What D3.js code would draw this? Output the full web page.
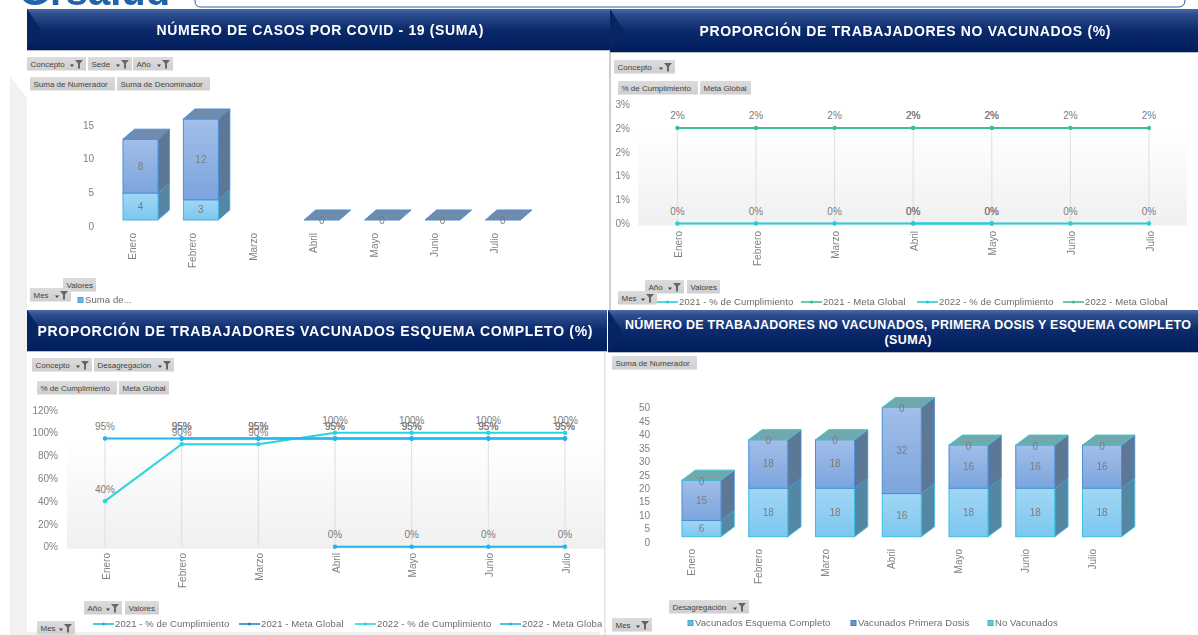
<!DOCTYPE html>
<html lang="es">
<head>
  <meta charset="UTF-8">
  <title>Tablero COVID-19</title>
  <style>
    body { margin: 0; background: #fff; overflow: hidden; }
    svg { display: block; filter: blur(0.6px); }
    text { font-family: "Liberation Sans", Arial, sans-serif; }
    .title { fill: #fff; font-weight: bold; text-anchor: middle; }
    .chip text { font-size: 8px; fill: #444; }
    .tick-label { font-size: 10px; fill: #808080; }
    .val { font-size: 10px; fill: #7c7c7c; text-anchor: middle; }
    .legend text { font-size: 9.5px; fill: #6a6a6a; letter-spacing: 0.1px; }
    .domain, .axis line { display: none; }
  </style>
</head>
<body>
  <svg width="1198" height="635"></svg>
  <script src="https://d3js.org/d3.v7.min.js"></script>
  <script>
    const months = ["Enero", "Febrero", "Marzo", "Abril", "Mayo", "Junio", "Julio"];

    // Casos por COVID
    const casosPrimera = [4, 3, null, 0, 0, 0, 0];
    const casosSegunda = [8, 12, null, 0, 0, 0, 0];
    const casosTicks = [0, 5, 10, 15];

    // No vacunados (%)
    const noVac2021Cumpl = [null, null, null, 0, 0, null, null];
    const noVac2021Meta = [null, null, null, 2, 2, null, null];
    const noVac2022Cumpl = [0, 0, 0, 0, 0, 0, 0];
    const noVac2022Meta = [2, 2, 2, 2, 2, 2, 2];
    const noVacTicks = [0, 0.5, 1, 1.5, 2, 2.5];

    // Vacunados esquema completo (%)
    const vac2021Cumpl = [null, null, null, 0, 0, 0, 0];
    const vac2021Meta = [null, 95, 95, 95, 95, 95, 95];
    const vac2022Cumpl = [40, 90, 90, 100, 100, 100, 100];
    const vac2022Meta = [95, 95, 95, 95, 95, 95, 95];
    const vacTicks = [0, 20, 40, 60, 80, 100, 120];

    // Numero de trabajadores
    const trabEsquema = [6, 18, 18, 16, 18, 18, 18];
    const trabPrimera = [15, 18, 18, 32, 16, 16, 16];
    const trabNoVac = [0, 0, 0, 0, 0, 0, 0];
    const trabTicks = [0, 5, 10, 15, 20, 25, 30, 35, 40, 45, 50];

    const lineLegend = ["2021 - % de Cumplimiento", "2021 - Meta Global", "2022 - % de Cumplimiento", "2022 - Meta Global"];

    const svg = d3.select("svg");
    const defs = svg.append("defs");

    function vGrad(id, stops) {
      const g = defs.append("linearGradient").attr("id", id).attr("x1", 0).attr("x2", 0).attr("y1", 0).attr("y2", 1);
      stops.forEach(s => g.append("stop").attr("offset", s[0]).attr("stop-color", s[1]));
    }
    vGrad("hdr", [[0, "#4a6aa6"], [0.12, "#2c4d8e"], [0.5, "#0b2a6b"], [1, "#001d5c"]]);
    vGrad("chipBg", [[0, "#dcdcdc"], [1, "#cfcfcf"]]);
    vGrad("plotBg", [[0, "#ffffff"], [0.2, "#ffffff"], [1, "#f0f0f0"]]);
    vGrad("upper", [[0, "#a3bee9"], [1, "#7ba5dd"]]);
    vGrad("lower", [[0, "#a2d6f5"], [1, "#7cc7ef"]]);

    // page furniture
    svg.append("path").attr("d", "M10,76 L27,98 L27,635 L10,635 Z").attr("fill", "#f1f1f1");
    svg.append("rect").attr("x", 10).attr("y", 632).attr("width", 590).attr("height", 3).attr("fill", "#f1f1f1");
    svg.append("path").attr("d", "M195,-8 L195,1 Q195,7 201,7 L1178,7 Q1185,7 1185,0 L1185,-8")
      .attr("fill", "none").attr("stroke", "#2f5d94").attr("stroke-width", 1);
    svg.append("text").attr("x", 19).attr("y", 5).attr("font-size", 40).attr("font-weight", "bold")
      .attr("fill", "#1f63a8").text("Grsalud");
    svg.append("rect").attr("x", 609).attr("y", 50).attr("width", 2).attr("height", 260).attr("fill", "#cfcfcf");
    svg.append("rect").attr("x", 604).attr("y", 352).attr("width", 1.5).attr("height", 283).attr("fill", "#e4e4e4");

    function header(x, y, w, h, lines, cx, cy, size, lens) {
      svg.append("rect").attr("x", x).attr("y", y).attr("width", w).attr("height", h).attr("fill", "url(#hdr)");
      svg.append("path").attr("d", `M${x},${y} L${x + 14},${y + h / 2} L${x},${y + h} Z`).attr("fill", "#062561");
      svg.append("line").attr("x1", x).attr("x2", x + w).attr("y1", y + h + 0.5).attr("y2", y + h + 0.5).attr("stroke", "#b9bec8");
      lines.forEach((t, i) => {
        svg.append("text").attr("class", "title").attr("x", cx).attr("y", cy + i * 15).attr("dy", "0.35em")
          .attr("font-size", size).attr("textLength", lens[i]).text(t);
      });
    }

    // Pivot field button, the funnel is only drawn when the field can be filtered
    function chip(x, y, w, label, hasFilter) {
      const g = svg.append("g").attr("class", "chip").attr("transform", `translate(${x},${y})`);
      g.append("rect").attr("width", w).attr("height", 13.5).attr("fill", "url(#chipBg)");
      g.append("text").attr("x", 3.5).attr("y", 9.5).text(label);
      if (hasFilter) {
        g.append("path").attr("d", `M${w - 16},7.5 h4 l-2,2.5 Z`).attr("fill", "#444");
        g.append("path").attr("d", `M${w - 11},3 h8 l-3,3.5 v5 h-2 v-5 Z`).attr("fill", "#666");
      }
    }

    function bandScale(x0, step, width) {
      const pad = 1 - width / step;
      return d3.scaleBand().domain(months).range([x0 - step * pad / 2, x0 - step * pad / 2 + step * 7]).paddingInner(pad).paddingOuter(pad / 2);
    }

    function monthLabels(xPos, top) {
      months.forEach(m => {
        svg.append("text").attr("class", "tick-label").attr("text-anchor", "end")
          .attr("transform", `translate(${xPos(m)},${top}) rotate(-90)`).attr("dy", "0.35em").text(m);
      });
    }

    function valueAxis(y, ticks, right, shift, fmt) {
      const g = svg.append("g").attr("class", "axis").attr("transform", `translate(${right},${shift})`)
        .call(d3.axisLeft(y).tickValues(ticks).tickSize(0).tickPadding(0).tickFormat(fmt));
      g.selectAll("text").attr("class", "tick-label").style("font-size", "10px").style("font-family", null);
    }

    // One stacked 3D column segment: front, right side and optional top face
    function segment(x, w, y0, y1, dx, dy, front, side, stroke) {
      svg.append("path").attr("d", `M${x + w},${y1} l${dx},${-dy} V${y0 - dy} L${x + w},${y0} Z`)
        .attr("fill", side).attr("stroke", stroke).attr("stroke-width", 0.8);
      svg.append("rect").attr("x", x).attr("y", y1).attr("width", w).attr("height", y0 - y1)
        .attr("fill", front).attr("stroke", stroke).attr("stroke-width", 1);
    }
    function topFace(x, w, yTop, dx, dy, fill, stroke) {
      svg.append("path").attr("d", `M${x},${yTop} l${dx},${-dy} h${w} l${-dx},${dy} Z`)
        .attr("fill", fill).attr("stroke", stroke).attr("stroke-width", 1);
    }
    function val(x, y, t) {
      svg.append("text").attr("class", "val").attr("x", x).attr("y", y).attr("dy", "0.35em").text(t);
    }

    function lineChart(o) {
      svg.append("rect").attr("x", o.bgX).attr("y", o.y.range()[1] + 2).attr("width", o.bgW)
        .attr("height", o.y.range()[0] - o.y.range()[1]).attr("fill", "url(#plotBg)");
      months.forEach(m => {
        svg.append("line").attr("x1", o.x(m)).attr("x2", o.x(m)).attr("y1", o.y(o.gridTop)).attr("y2", o.y(0))
          .attr("stroke", "#dedede");
      });
      const line = d3.line().defined(d => d != null).x((d, i) => o.x(months[i])).y(d => o.y(d));
      o.series.forEach(s => {
        svg.append("path").attr("d", line(s.values)).attr("fill", "none").attr("stroke", s.color).attr("stroke-width", 2);
        s.values.forEach((v, i) => {
          if (v == null) return;
          svg.append("circle").attr("cx", o.x(months[i])).attr("cy", o.y(v)).attr("r", 2.2).attr("fill", s.color);
          val(o.x(months[i]), o.y(v) - 12, v + "%");
        });
      });
    }

    function lineLegendRow(y, xs, colors, clipRight) {
      const g = svg.append("g").attr("class", "legend");
      if (clipRight) {
        defs.append("clipPath").attr("id", "legClip").append("rect").attr("x", 0).attr("y", 0).attr("width", clipRight).attr("height", 635);
        g.attr("clip-path", "url(#legClip)");
      }
      lineLegend.forEach((t, i) => {
        g.append("line").attr("x1", xs[i]).attr("x2", xs[i] + 21).attr("y1", y).attr("y2", y).attr("stroke", colors[i]).attr("stroke-width", 1.6);
        g.append("circle").attr("cx", xs[i] + 10.5).attr("cy", y).attr("r", 1.6).attr("fill", colors[i]);
        g.append("text").attr("x", xs[i] + 22).attr("y", y).attr("dy", "0.35em").text(t);
      });
    }

    function swatchLegend(y, xs, labels, colors) {
      const g = svg.append("g").attr("class", "legend");
      labels.forEach((t, i) => {
        g.append("rect").attr("x", xs[i]).attr("y", y - 2.5).attr("width", 5).attr("height", 5).attr("fill", colors[i]).attr("stroke", d3.color(colors[i]).darker(0.5));
        g.append("text").attr("x", xs[i] + 7).attr("y", y).attr("dy", "0.35em").text(t);
      });
    }

    /* ---------- Panel 1 ---------- */
    header(27, 9, 583, 41, ["NÚMERO DE CASOS POR COVID - 19 (SUMA)"], 320, 30, 14, [327]);
    chip(27, 57, 59, "Concepto", true);
    chip(88, 57, 44, "Sede", true);
    chip(133, 57, 40, "Año", true);
    chip(30, 77, 85, "Suma de Numerador");
    chip(117, 77, 93, "Suma de Denominador");
    chip(63, 278, 33, "Valores");
    chip(30, 288, 41, "Mes", true);
    swatchLegend(300, [78], ["Suma de..."], ["#5bbfe9"]);

    const x1 = bandScale(123, 60.4, 35);
    const y1 = d3.scaleLinear().domain([0, 15]).range([220, 119]);
    valueAxis(y1, casosTicks, 94, 6);
    monthLabels(m => x1(m) + x1.bandwidth() / 2 - 8, 233);
    months.forEach((m, i) => {
      if (casosPrimera[i] == null) return;
      const x = x1(m), w = x1.bandwidth();
      const a = casosPrimera[i], b = a + casosSegunda[i];
      if (b > 0) {
        segment(x, w, y1(0), y1(a), 11.5, 10, "url(#lower)", "#5387a3", "#4ab2e6");
        segment(x, w, y1(a), y1(b), 11.5, 10, "url(#upper)", "#5d7797", "#4a8fd4");
      }
      topFace(x, w, y1(b), 11.5, 10, "#6f8bae", "#4a8fd4");
      const cx = x + w / 2;
      if (b > 0) {
        val(cx, (y1(0) + y1(a)) / 2, a);
        val(cx, (y1(a) + y1(b)) / 2, casosSegunda[i]);
      } else {
        val(cx, y1(0), 0);
      }
    });

    /* ---------- Panel 2 ---------- */
    header(610, 9, 588, 43, ["PROPORCIÓN DE TRABAJADORES NO VACUNADOS (%)"], 905, 31, 14, [411]);
    chip(614, 60, 61, "Concepto", true);
    chip(618, 81, 80, "% de Cumplimiento");
    chip(700, 81, 51, "Meta Global");
    chip(645, 280, 39, "Año", true);
    chip(687, 280, 33, "Valores");
    chip(618, 291, 39, "Mes", true);

    const x2 = d3.scalePoint().domain(months).range([677.4, 1149]);
    const y2 = d3.scaleLinear().domain([0, 2.5]).range([223.5, 104]);
    valueAxis(y2, noVacTicks, 630, 0, d => Math.round(d) + "%");
    lineChart({
      x: x2, y: y2, bgX: 638, bgW: 549, gridTop: 2,
      series: [
        { values: noVac2021Meta, color: "#3cbf95" },
        { values: noVac2021Cumpl, color: "#25cdd8" },
        { values: noVac2022Meta, color: "#3cbf95" },
        { values: noVac2022Cumpl, color: "#25cdd8" }
      ]
    });
    monthLabels(m => x2(m) + 1, 231);
    lineLegendRow(302, [657, 801, 917, 1063], ["#25cdd8", "#3cbf95", "#25cdd8", "#3cbf95"]);

    /* ---------- Panel 3 ---------- */
    header(27, 310, 580, 41, ["PROPORCIÓN DE TRABAJADORES VACUNADOS ESQUEMA COMPLETO (%)"], 315, 331, 14, [555]);
    chip(32, 358, 60, "Concepto", true);
    chip(94, 358, 80, "Desagregación", true);
    chip(37, 381, 80, "% de Cumplimiento");
    chip(119, 381, 50, "Meta Global");
    chip(84, 601, 38, "Año", true);
    chip(125, 601, 34, "Valores");
    chip(37, 621, 38, "Mes", true);

    const x3 = d3.scalePoint().domain(months).range([105, 565]);
    const y3 = d3.scaleLinear().domain([0, 120]).range([546.7, 410]);
    valueAxis(y3, vacTicks, 58, 0, d => d + "%");
    lineChart({
      x: x3, y: y3, bgX: 67, bgW: 537, gridTop: 100,
      series: [
        { values: vac2021Meta, color: "#2a7fd0" },
        { values: vac2022Cumpl, color: "#2bd3dc" },
        { values: vac2022Meta, color: "#1fb4ec" },
        { values: vac2021Cumpl, color: "#1fb4ec" }
      ]
    });
    monthLabels(m => x3(m) + 1, 553);
    lineLegendRow(624, [93, 239, 355, 500], ["#1fb4ec", "#2a7fd0", "#2bd3dc", "#1fb4ec"], 603);

    /* ---------- Panel 4 ---------- */
    header(608, 310, 590, 42, ["NÚMERO DE TRABAJADORES NO VACUNADOS, PRIMERA DOSIS Y ESQUEMA COMPLETO", "(SUMA)"], 908, 325, 12.5, [566, 47]);
    chip(612, 356, 85, "Suma de Numerador");
    chip(669, 600, 80, "Desagregación", true);
    chip(612, 618, 40, "Mes", true);
    swatchLegend(623, [688, 851, 988], ["Vacunados Esquema Completo", "Vacunados Primera Dosis", "No Vacunados"], ["#5bbfe9", "#5f95d9", "#4fd3dc"]);

    const x4 = bandScale(682, 66.75, 39);
    const y4 = d3.scaleLinear().domain([0, 50]).range([536.7, 402]);
    valueAxis(y4, trabTicks, 650, 5.5);
    monthLabels(m => x4(m) + x4.bandwidth() / 2 - 10, 549);
    months.forEach((m, i) => {
      const x = x4(m), w = x4.bandwidth();
      const a = trabEsquema[i], b = a + trabPrimera[i], c = b + trabNoVac[i];
      segment(x, w, y4(0), y4(a), 13.3, 10, "url(#lower)", "#5387a3", "#38bfe0");
      segment(x, w, y4(a), y4(b), 13.3, 10, "url(#upper)", "#5d7797", "#4a8fd4");
      topFace(x, w, y4(c), 13.3, 10, "#6fa9ae", "#3cc4ce");
      const cx = x + w / 2;
      val(cx, (y4(0) + y4(a)) / 2, a);
      val(cx, (y4(a) + y4(b)) / 2, trabPrimera[i]);
      val(cx, y4(c) + 1, trabNoVac[i]);
    });
  </script>
</body>
</html>
